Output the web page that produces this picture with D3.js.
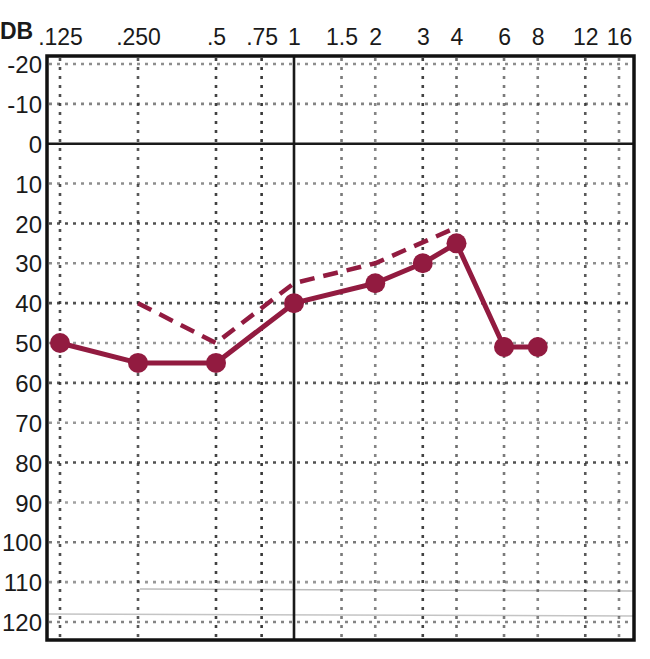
<!DOCTYPE html>
<html>
<head>
<meta charset="utf-8">
<script src="https://cdn.jsdelivr.net/npm/d3@7/dist/d3.min.js"></script>
<style>
  html, body { margin: 0; padding: 0; background: #fff; }
  svg { display: block; }
  text { font-family: "Liberation Sans", Arial, sans-serif; fill: #1a1a1a; }
</style>
</head>
<body>
<svg id="chart" width="650" height="659"></svg>
<script>
// ---- data ----
const freqTicks = [0.125, 0.25, 0.5, 0.75, 1, 1.5, 2, 3, 4, 6, 8, 12, 16];
const freqLabels = [".125", ".250", ".5", ".75", "1", "1.5", "2", "3", "4", "6", "8", "12", "16"];
const dbTicks = [-20, -10, 0, 10, 20, 30, 40, 50, 60, 70, 80, 90, 100, 110, 120];

const solidFreqs = [0.125, 0.25, 0.5, 1, 2, 3, 4, 6, 8];
const solidDb    = [50, 55, 55, 40, 35, 30, 25, 51, 51];

const dashedFreqs = [0.25, 0.5, 1, 2, 4];
const dashedDb    = [40, 50, 35, 30, 21];

// ---- layout ----
const svg = d3.select("#chart");
const frame = { left: 47, right: 634, top: 56, bottom: 640 };
const maroon = "#921b40";

const x = d3.scaleLog().domain([0.125, 1, 16]).range([60, 294, 619]);
const y = d3.scaleLinear().domain([-20, 120]).range([64, 622]);

// faint scan lines near bottom
svg.append("line").attr("x1", 140).attr("x2", frame.right).attr("y1", 589).attr("y2", 591)
  .attr("stroke", "#bbb").attr("stroke-width", 1.5);
svg.append("line").attr("x1", frame.left).attr("x2", frame.right).attr("y1", 614).attr("y2", 616)
  .attr("stroke", "#c4c4c4").attr("stroke-width", 1.5);

// horizontal dotted grid
svg.append("g").selectAll("line")
  .data(dbTicks.filter(d => d !== 0))
  .join("line")
  .attr("x1", frame.left + 2).attr("x2", frame.right - 2)
  .attr("y1", d => y(d)).attr("y2", d => y(d))
  .attr("stroke", "#333").attr("stroke-width", 2.6)
  .attr("stroke-dasharray", "3,5")
  .attr("opacity", (d, i) => [0.55, 0.6, 0.55, 0.85, 0.55, 0.85, 0.5, 0.8, 0.5, 0.85, 0.45, 0.65, 0.5, 0.6][i]);

// vertical dotted grid
svg.append("g").selectAll("line")
  .data(freqTicks.filter(d => d !== 1))
  .join("line")
  .attr("x1", d => x(d)).attr("x2", d => x(d))
  .attr("y1", frame.top + 2).attr("y2", frame.bottom - 2)
  .attr("stroke", "#222").attr("stroke-width", 2.6)
  .attr("stroke-dasharray", "3,6")
  .attr("opacity", (d, i) => [0.8, 0.75, 0.85, 0.9, 0.6, 0.55, 0.85, 0.65, 0.6, 0.55, 0.75, 0.55][i]);

// solid reference lines at 0 dB and 1 kHz
svg.append("line").attr("x1", frame.left).attr("x2", frame.right)
  .attr("y1", y(0)).attr("y2", y(0)).attr("stroke", "#1a1a1a").attr("stroke-width", 2.6);
svg.append("line").attr("x1", x(1)).attr("x2", x(1))
  .attr("y1", frame.top).attr("y2", frame.bottom).attr("stroke", "#1a1a1a").attr("stroke-width", 2.6);

// frame
svg.append("rect")
  .attr("x", frame.left).attr("y", frame.top)
  .attr("width", frame.right - frame.left).attr("height", frame.bottom - frame.top)
  .attr("fill", "none").attr("stroke", "#111").attr("stroke-width", 3.5);

// axes
const xAxis = d3.axisTop(x).tickValues(freqTicks)
  .tickFormat((d, i) => freqLabels[i]).tickSize(0).tickPadding(0);
const gx = svg.append("g").attr("transform", "translate(0,45)").call(xAxis);
gx.select(".domain").remove();
gx.selectAll("text").attr("font-size", 23).attr("fill", "#1a1a1a")
  .attr("font-family", "'Liberation Sans', Arial, sans-serif").attr("dy", 0);

const yAxis = d3.axisLeft(y).tickValues(dbTicks).tickFormat(d => String(d)).tickSize(0).tickPadding(0);
const gy = svg.append("g").attr("transform", "translate(42,0)").call(yAxis);
gy.select(".domain").remove();
gy.selectAll("text").attr("font-size", 24).attr("fill", "#1a1a1a")
  .attr("font-family", "'Liberation Sans', Arial, sans-serif").attr("dy", "0.36em");

svg.append("text").attr("x", 0).attr("y", 39)
  .attr("font-size", 23).attr("font-weight", "bold").text("DB");

// dashed series
const dashedData = dashedFreqs.map((f, i) => [f, dashedDb[i]]);
const solidData = solidFreqs.map((f, i) => [f, solidDb[i]]);
const line = d3.line().x(d => x(d[0])).y(d => y(d[1]));

svg.append("path").datum(dashedData).attr("d", line)
  .attr("fill", "none").attr("stroke", maroon).attr("stroke-width", 4.5)
  .attr("stroke-dasharray", "15,9");

svg.append("path").datum(solidData).attr("d", line)
  .attr("fill", "none").attr("stroke", maroon).attr("stroke-width", 5)
  .attr("stroke-linejoin", "round");

svg.append("g").selectAll("circle").data(solidData).join("circle")
  .attr("cx", d => x(d[0])).attr("cy", d => y(d[1])).attr("r", 10)
  .attr("fill", maroon);
</script>
</body>
</html>
